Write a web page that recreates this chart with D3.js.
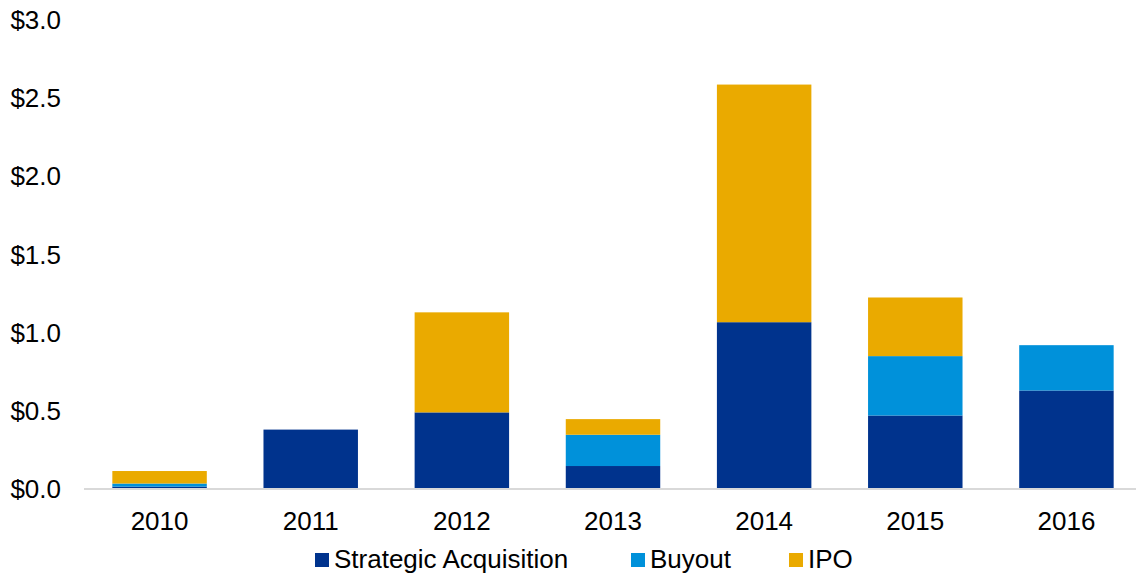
<!DOCTYPE html>
<html>
<head>
<meta charset="utf-8">
<script src="https://cdn.jsdelivr.net/npm/d3@7"></script>
<style>
  body { margin: 0; background: #fff; }
  text { font-family: "Liberation Sans", Arial, sans-serif; fill: #000; }
</style>
</head>
<body>
<div id="chart"></div>
<script>
var width = 1136,
    height = 576;

// data ($ billions)
let years = ["2010", "2011", "2012", "2013", "2014", "2015", "2016"];
let strategic = [0.015, 0.38, 0.49, 0.147, 1.067, 0.47, 0.63];
let buyout    = [0.02, 0, 0, 0.2, 0, 0.38, 0.29];
let ipo       = [0.08, 0, 0.64, 0.10, 1.52, 0.375, 0];
let seriesNames = ["Strategic Acquisition", "Buyout", "IPO"];
let colors = ["#00338D", "#0091DA", "#EAAA00"];
let yTicks = [0, 0.5, 1.0, 1.5, 2.0, 2.5, 3.0];

var svg = d3.select('#chart').append('svg')
    .attr('width', width)
    .attr('height', height);

// build rows for the stack
let rows = years.map((y, i) => ({year: y, s0: strategic[i], s1: buyout[i], s2: ipo[i]}));
let stack = d3.stack().keys(["s0", "s1", "s2"]);
let layers = stack(rows);

let scaleX = d3.scaleBand().domain(years).range([84, 1142])
    .paddingInner(0.375).paddingOuter(0.1875);
let scaleY = d3.scaleLinear().domain([0, 3]).range([489, 20]);

// y tick labels
svg.append("g").selectAll("text").data(yTicks).enter()
    .append("text")
    .attr("x", 61)
    .attr("y", d => scaleY(d))
    .attr("dy", "0.35em")
    .attr("text-anchor", "end")
    .style("font-size", "26px")
    .text(d => "$" + d.toFixed(1));

// bars
svg.append("g").selectAll("g").data(layers).enter()
    .append("g")
    .attr("fill", (d, i) => colors[i])
    .selectAll("rect").data(d => d).enter()
    .append("rect")
    .attr("x", d => scaleX(d.data.year))
    .attr("y", d => scaleY(d[1]))
    .attr("width", scaleX.bandwidth())
    .attr("height", d => scaleY(d[0]) - scaleY(d[1]));

// baseline
svg.append("line")
    .attr("x1", 84).attr("x2", width)
    .attr("y1", scaleY(0)).attr("y2", scaleY(0))
    .attr("stroke", "#d9d9d9")
    .attr("stroke-width", 2);

// x labels
svg.append("g").selectAll("text").data(years).enter()
    .append("text")
    .attr("x", d => scaleX(d) + scaleX.bandwidth() / 2)
    .attr("y", 529.5)
    .attr("text-anchor", "middle")
    .style("font-size", "26px")
    .text(d => d);

// legend
let legendX = [315, 631, 789];
let legend = svg.append("g").selectAll("g").data(seriesNames).enter()
    .append("g")
    .attr("transform", (d, i) => "translate(" + legendX[i] + ",553)");
legend.append("rect")
    .attr("width", 14).attr("height", 14)
    .attr("fill", (d, i) => colors[i]);
legend.append("text")
    .attr("x", 19)
    .attr("y", 14.5)
    .style("font-size", "26px")
    .text(d => d);
</script>
</body>
</html>
